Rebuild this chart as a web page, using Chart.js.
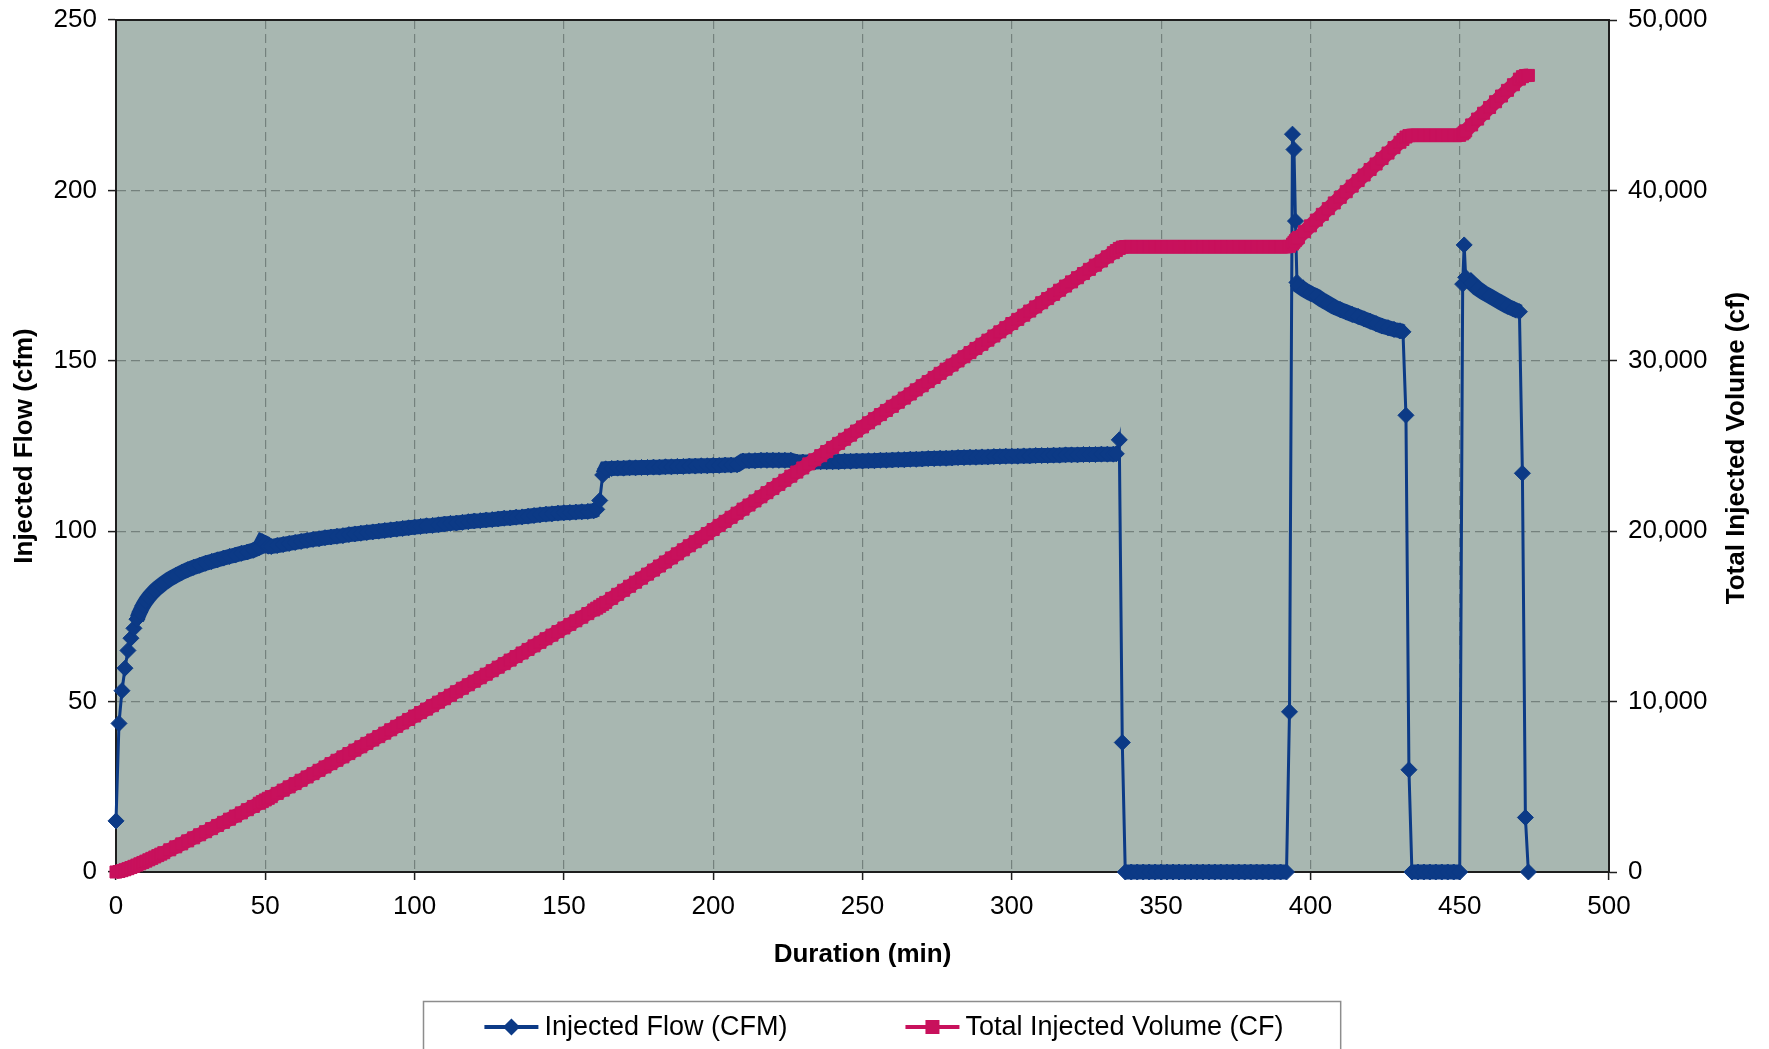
<!DOCTYPE html>
<html>
<head>
<meta charset="utf-8">
<script src="https://cdn.jsdelivr.net/npm/chart.js@4/dist/chart.umd.min.js"></script>
<style>
html,body{margin:0;padding:0;background:#ffffff;overflow:hidden}
#wrap{width:1769px;height:1049px;position:relative}
</style>
</head>
<body>
<div id="wrap"><canvas id="c" width="1769" height="1049"></canvas></div>
<script>
// ---------------- data ----------------
const minutes = [
  0,1,2,3,4,5,6,7,8,9,10,11,12,13,14,15,16,
  18,20,22,24,26,28,30,32,34,36,38,40,42,44,46,48,
  49,50,51,52,
  54,56,58,60,62,64,66,68,70,72,74,76,78,80,82,84,86,88,90,92,94,96,98,100,
  102,104,106,108,110,112,114,116,118,120,122,124,126,128,130,132,134,136,138,140,
  142,144,146,148,150,152,154,156,158,160,
  161,162,163,164,
  166,168,170,172,174,176,178,180,182,184,186,188,190,192,194,196,198,200,202,204,206,208,
  210,212,214,216,218,220,222,224,226,
  228,230,232,234,236,238,240,242,244,246,248,250,252,254,256,258,260,262,264,266,268,270,
  272,274,276,278,280,282,284,286,288,290,292,294,296,298,300,302,304,306,308,310,312,314,
  316,318,320,322,324,326,328,330,332,334,
  335,336,337,338,
  340,342,344,346,348,350,352,354,356,358,360,362,364,366,368,370,372,374,376,378,380,382,
  384,386,388,390,392,
  393,394,394.5,395,395.5,396,
  398,400,402,404,406,408,410,412,414,416,418,420,422,424,426,428,430,
  431,432,433,434,
  436,438,440,442,444,446,448,450,
  451,451.5,452,
  454,456,458,460,462,464,466,468,470,
  471,472,473
];

const injectedFlow = [
  15,43.6,53.2,59.8,65,68.6,71.5,74.2,76.3,78.1,79.5,80.7,81.7,82.6,83.4,84.1,84.8,
  86,87,87.9,88.7,89.4,90,90.6,91.1,91.6,92.1,92.6,93,93.5,93.9,94.4,95.2,
  96.9,96.5,95.6,95.5,
  95.8,96.1,96.4,96.7,97,97.3,97.6,97.8,98.1,98.3,98.5,98.7,99,99.2,99.4,99.6,99.8,100,100.2,100.4,100.6,100.8,101,101.2,
  101.4,101.6,101.7,101.9,102.1,102.3,102.4,102.6,102.8,103,103.1,103.3,103.4,103.6,103.8,103.9,104.1,104.2,104.4,104.6,
  104.8,105,105.1,105.3,105.4,105.5,105.6,105.7,105.8,106,
  106.4,109,116.5,118.3,
  118.4,118.5,118.5,118.6,118.6,118.7,118.7,118.8,118.8,118.9,118.9,119,119,119.1,119.1,119.2,119.2,119.3,119.3,119.4,119.4,119.5,
  120.6,120.7,120.7,120.8,120.8,120.8,120.8,120.8,120.8,
  120.3,120.3,120.3,120.3,120.4,120.4,120.4,120.4,120.5,120.5,120.6,120.6,120.7,120.7,120.8,120.8,120.9,121,121,121.1,121.1,121.2,
  121.3,121.3,121.4,121.4,121.5,121.6,121.6,121.7,121.7,121.8,121.8,121.9,121.9,122,122,122,122.1,122.1,122.2,122.2,122.2,122.3,
  122.3,122.4,122.4,122.4,122.5,122.5,122.5,122.6,122.6,122.6,
  122.7,126.8,38,0,
  0,0,0,0,0,0,0,0,0,0,0,0,0,0,0,0,0,0,0,0,0,0,
  0,0,0,0,0,
  47,216.5,212,191,173,172,
  170.8,169.8,169,167.8,166.8,165.8,165,164.3,163.6,163,162.3,161.6,160.9,160.2,159.7,159.2,158.8,
  158.5,134,30,0,
  0,0,0,0,0,0,0,0,
  172.5,184,174.5,
  172.8,171.2,170,169,168,167,166,165.2,164.4,
  117,16,0
];

const totalVolume = [
  0,29,78,134,196,263,333,406,481,559,637,717,799,881,964,1048,1132,
  1303,1476,1651,1827,2005,2185,2365,2547,2730,2913,3098,3284,3470,3658,3846,4036,
  4132,4229,4325,4421,
  4612,4804,4996,5189,5383,5577,5772,5967,6163,6360,6556,6754,6951,7149,7348,7547,7746,7946,8146,8347,8548,8749,8951,9153,
  9356,9559,9762,9966,10170,10374,10579,10784,10989,11195,11401,11607,11814,12021,12228,12436,12644,12852,13061,13270,
  13479,13689,13899,14109,14320,14531,14742,14953,15165,15377,
  15483,15591,15704,15821,
  16058,16295,16532,16769,17006,17243,17480,17718,17956,18194,18432,18670,18908,19146,19384,19622,19860,20099,20338,20577,20816,21055,
  21295,21536,21777,22019,22261,22503,22745,22987,23229,
  23470,23711,23951,24192,24433,24674,24914,25155,25396,25637,25878,26119,26361,26602,26844,27085,27327,27569,27811,28053,28295,28537,
  28780,29022,29265,29508,29751,29994,30237,30481,30724,30968,31211,31455,31699,31943,32187,32431,32675,32919,33163,33408,33652,33897,
  34141,34386,34631,34876,35121,35366,35611,35856,36101,36346,
  36469,36594,36676,36695,
  36695,36695,36695,36695,36695,36695,36695,36695,36695,36695,36695,36695,36695,36695,36695,36695,36695,36695,36695,36695,36695,36695,
  36695,36695,36695,36695,36695,
  36719,36850,36957,37058,37149,37235,
  37578,37919,38258,38595,38930,39263,39594,39923,40251,40578,40903,41227,41550,41871,42191,42510,42828,
  42987,43133,43215,43230,
  43230,43230,43230,43230,43230,43230,43230,43230,
  43316,43405,43495,
  43842,44186,44527,44866,45203,45538,45871,46202,46532,
  46673,46739,46747
];

const seriesNames = ['Injected Flow (CFM)', 'Total Injected Volume (CF)'];
const xTitle = 'Duration (min)';
const yTitle = 'Injected Flow (cfm)';
const y2Title = 'Total Injected Volume (cf)';
const xTicks = [0, 500, 50];        // min, max, step
const yTicks = [0, 250, 50];
const y2Ticks = [0, 50000, 10000];

// ---------------- styles ----------------
const FONT = '"Liberation Sans", Arial, Helvetica, sans-serif';
const BLUE = '#0c3a86';
const PINK = '#c8115c';
const PLOT_BG = '#a8b7b1';
const GRID = '#74817d';
const AXIS = '#1e1e1e';

Chart.defaults.font.family = FONT;
Chart.defaults.color = '#000';

const plotDecor = {
  id: 'plotDecor',
  beforeDraw(chart) {
    const {ctx, chartArea: a} = chart;
    ctx.save();
    ctx.fillStyle = PLOT_BG;
    ctx.fillRect(a.left, a.top, a.right - a.left, a.bottom - a.top);
    ctx.restore();
  },
  beforeDatasetsDraw(chart) {
    const {ctx, chartArea: a} = chart;
    ctx.save();
    ctx.strokeStyle = AXIS;
    ctx.lineWidth = 2;
    ctx.beginPath();
    ctx.moveTo(a.left, a.top);
    ctx.lineTo(a.right, a.top);
    ctx.stroke();
    ctx.restore();
  },
  afterDraw(chart) {
    const {ctx, chartArea: a} = chart;
    // right axis title, reading bottom-to-top
    ctx.save();
    ctx.translate(chart.width - 32, (a.top + a.bottom) / 2 + 2);
    ctx.rotate(-Math.PI / 2);
    ctx.font = 'bold 26px ' + FONT;
    ctx.fillStyle = '#000';
    ctx.textAlign = 'center';
    ctx.textBaseline = 'middle';
    ctx.fillText(y2Title, 0, 0);
    ctx.restore();

    // boxed legend
    ctx.save();
    ctx.font = '27px ' + FONT;
    const ds = chart.data.datasets;
    const markW = 54, gap = 6, itemGap = 118;
    const widths = ds.map(d => ctx.measureText(d.label).width);
    let total = itemGap * (ds.length - 1);
    widths.forEach(w => total += markW + gap + w);
    const cx = 884, cy = 1027;
    let x = cx - total / 2;
    ctx.strokeStyle = '#8d8d8d';
    ctx.lineWidth = 1.5;
    ctx.strokeRect(Math.round(x - 61) + 0.5, 1001.5, total + 61 + 57, 80);
    ds.forEach((d, i) => {
      ctx.strokeStyle = d.borderColor;
      ctx.lineWidth = 4;
      ctx.beginPath();
      ctx.moveTo(x, cy);
      ctx.lineTo(x + markW, cy);
      ctx.stroke();
      const mx = x + markW / 2;
      ctx.fillStyle = d.borderColor;
      ctx.beginPath();
      if (d.pointStyle === 'rectRot') {
        const r = 8.5;
        ctx.moveTo(mx - r, cy); ctx.lineTo(mx, cy - r); ctx.lineTo(mx + r, cy); ctx.lineTo(mx, cy + r);
      } else {
        const s = 7;
        ctx.rect(mx - s, cy - s, 2 * s, 2 * s);
      }
      ctx.closePath();
      ctx.fill();
      ctx.fillStyle = '#000';
      ctx.textAlign = 'left';
      ctx.textBaseline = 'middle';
      ctx.fillText(d.label, x + markW + gap, cy + 1);
      x += markW + gap + widths[i] + itemGap;
    });
    ctx.restore();
  }
};

const tickFont = {size: 26, family: FONT};
const titleFont = {size: 26, weight: 'bold', family: FONT};

// dense runs of markers merge into a thick band; steep jumps stay thin
const flowSegmentWidth = c => {
  const dx = Math.abs(c.p1.x - c.p0.x), dy = Math.abs(c.p1.y - c.p0.y);
  return dy > 2.5 * dx ? 3 : 15;
};

new Chart(document.getElementById('c'), {
  type: 'line',
  data: {
    datasets: [
      {
        label: seriesNames[0],
        data: minutes.map((m, i) => ({x: m, y: injectedFlow[i]})),
        yAxisID: 'y',
        borderColor: BLUE,
        backgroundColor: BLUE,
        borderWidth: 3,
        segment: {borderWidth: flowSegmentWidth},
        pointStyle: 'rectRot',
        pointRadius: 8,
        pointBorderWidth: 1,
        pointBackgroundColor: BLUE,
        pointBorderColor: BLUE,
        tension: 0,
        fill: false,
        clip: false,
        order: 2
      },
      {
        label: seriesNames[1],
        data: minutes.map((m, i) => ({x: m, y: totalVolume[i]})),
        yAxisID: 'y2',
        borderColor: PINK,
        backgroundColor: PINK,
        borderWidth: 14,
        pointStyle: 'rect',
        pointRadius: 8.5,
        pointBorderWidth: 1,
        pointBackgroundColor: PINK,
        pointBorderColor: PINK,
        tension: 0,
        fill: false,
        clip: false,
        order: 1
      }
    ]
  },
  options: {
    responsive: false,
    animation: false,
    devicePixelRatio: 1,
    events: [],
    layout: {padding: {top: 20, left: 0, right: 0, bottom: 0}},
    plugins: {legend: {display: false}, tooltip: {enabled: false}, title: {display: false}},
    scales: {
      x: {
        type: 'linear', position: 'bottom',
        min: xTicks[0], max: xTicks[1],
        ticks: {stepSize: xTicks[2], font: tickFont, color: '#000', padding: 11, maxRotation: 0, autoSkip: false},
        grid: {color: GRID, lineWidth: 1.2, tickLength: 8, tickColor: AXIS, tickWidth: 1.5},
        border: {display: true, color: AXIS, width: 2, dash: [9, 5]},
        title: {display: true, text: xTitle, font: titleFont, color: '#000', padding: {top: 0, bottom: 79}},
        afterFit(s) { s.height = 177; s.paddingLeft = 0; s.paddingRight = 0; }
      },
      y: {
        type: 'linear', position: 'left',
        min: yTicks[0], max: yTicks[1],
        ticks: {stepSize: yTicks[2], font: tickFont, color: '#000', padding: 11},
        grid: {color: GRID, lineWidth: 1.2, tickLength: 8, tickColor: AXIS, tickWidth: 1.5},
        border: {display: true, color: AXIS, width: 2, dash: [9, 5]},
        title: {display: true, text: yTitle, font: titleFont, color: '#000', padding: {top: 9, bottom: 0}},
        afterFit(s) { s.width = 116; s.paddingTop = 0; s.paddingBottom = 0; }
      },
      y2: {
        type: 'linear', position: 'right',
        min: y2Ticks[0], max: y2Ticks[1],
        ticks: {stepSize: y2Ticks[2], font: tickFont, color: '#000', padding: 11,
                callback: v => Number(v).toLocaleString('en-US')},
        grid: {drawOnChartArea: false, tickLength: 8, tickColor: AXIS, tickWidth: 1.5},
        border: {display: true, color: AXIS, width: 2},
        afterFit(s) { s.width = 160; s.paddingTop = 0; s.paddingBottom = 0; }
      }
    }
  },
  plugins: [plotDecor]
});
</script>
</body>
</html>
